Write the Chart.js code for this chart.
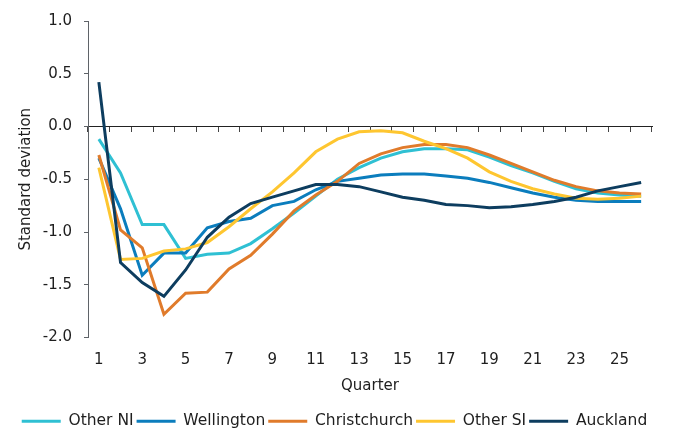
<!DOCTYPE html>
<html>
<head>
<meta charset="utf-8">
<script src="https://cdn.jsdelivr.net/npm/chart.js@4/dist/chart.umd.min.js"></script>
<style>
  html, body { margin: 0; padding: 0; background: #fff; }
  #wrap { width: 676px; height: 432px; position: relative; }
</style>
</head>
<body>
<div id="wrap"><canvas id="chart"></canvas></div>
<script>
// quarters after the shock
const quarters = ['1','2','3','4','5','6','7','8','9','10','11','12','13',
  '14','15','16','17','18','19','20','21','22','23','24','25','26'];

// standard deviations
const otherNI = [-0.12, -0.44, -0.93, -0.93, -1.25, -1.21, -1.20, -1.11, -0.97, -0.82, -0.66, -0.50, -0.39,
  -0.30, -0.24, -0.21, -0.21, -0.22, -0.29, -0.37, -0.44, -0.52, -0.59, -0.63, -0.65, -0.66];
const wellington = [-0.30, -0.78, -1.41, -1.20, -1.20, -0.96, -0.90, -0.87, -0.75, -0.71, -0.60, -0.52, -0.49,
  -0.46, -0.45, -0.45, -0.47, -0.49, -0.53, -0.58, -0.63, -0.67, -0.70, -0.71, -0.71, -0.71];
const christchurch = [-0.27, -0.98, -1.15, -1.78, -1.58, -1.57, -1.35, -1.22, -1.02, -0.80, -0.65, -0.52, -0.35,
  -0.26, -0.20, -0.17, -0.17, -0.20, -0.27, -0.35, -0.43, -0.51, -0.57, -0.61, -0.63, -0.64];
const otherSI = [-0.39, -1.26, -1.25, -1.18, -1.16, -1.10, -0.95, -0.78, -0.62, -0.44, -0.24, -0.12, -0.05,
  -0.04, -0.06, -0.14, -0.21, -0.30, -0.43, -0.52, -0.59, -0.64, -0.68, -0.69, -0.68, -0.66];
const auckland = [0.42, -1.29, -1.48, -1.61, -1.36, -1.05, -0.86, -0.73, -0.67, -0.61, -0.55, -0.55, -0.57,
  -0.62, -0.67, -0.70, -0.74, -0.75, -0.77, -0.76, -0.74, -0.71, -0.67, -0.61, -0.57, -0.53];

const yTicks = { min: -2, max: 1, step: 0.5 };

const TEXT = '#1e1e1e';
const AXIS = '#5f6368';

Chart.defaults.font.family = "'DejaVu Sans', Verdana, sans-serif";
Chart.defaults.color = TEXT;

function line(label, data, color, order) {
  return {
    label, data, order,
    borderColor: color,
    backgroundColor: color,
    borderWidth: 3,
    pointRadius: 0,
    tension: 0,
  };
}

new Chart(document.getElementById('chart'), {
  type: 'line',
  data: {
    labels: quarters,
    datasets: [
      line('Other NI', otherNI, '#2fc0d3', 5),
      line('Wellington', wellington, '#0b7dbd', 4),
      line('Christchurch', christchurch, '#e07b2b', 3),
      line('Other SI', otherSI, '#fec630', 2),
      line('Auckland', auckland, '#0d3d5f', 1),
    ],
  },
  options: {
    responsive: true,
    maintainAspectRatio: false,
    animation: false,
    layout: { padding: { top: 12, right: 24, left: 17, bottom: -7 } },
    plugins: {
      tooltip: { enabled: false },
      legend: {
        position: 'bottom',
        labels: {
          boxWidth: 39,
          boxHeight: 3,
          padding: 3,
          font: { size: 15.5 },
          color: TEXT,
          sort: (a, b) => a.datasetIndex - b.datasetIndex,
          generateLabels: (chart) => Chart.defaults.plugins.legend.labels.generateLabels(chart)
            .map(it => ({ ...it, lineWidth: 0 })),
        },
      },
    },
    scales: {
      x: {
        type: 'category',
        position: 'bottom',
        offset: true,
        grid: { display: false },
        border: { display: false },
        ticks: {
          autoSkip: false,
          maxRotation: 0,
          padding: 6,
          font: { size: 15 },
          callback: function (v, i) { return i % 2 === 0 ? this.getLabelForValue(v) : ''; },
        },
        title: { display: true, text: 'Quarter', font: { size: 15 }, padding: { top: 2, bottom: 15 } },
      },
      // zero line with tick marks, sits at y = 0
      xZero: {
        type: 'category',
        axis: 'x',
        position: { y: 0 },
        offset: true,
        grid: { offset: true, drawOnChartArea: false, tickLength: 5, color: '#444' },
        border: { color: '#222', width: 1 },
        ticks: { display: false },
      },
      y: {
        min: yTicks.min,
        max: yTicks.max,
        afterFit: (scale) => { scale.width = 71; },
        ticks: {
          stepSize: yTicks.step,
          padding: 12,
          font: { size: 15 },
          callback: v => v.toFixed(1),
        },
        grid: { drawOnChartArea: false, tickLength: 4, color: AXIS },
        border: { color: AXIS },
        title: { display: true, text: 'Standard deviation', font: { size: 15 }, padding: { top: 0, bottom: 0 } },
      },
    },
  },
});
</script>
</body>
</html>
